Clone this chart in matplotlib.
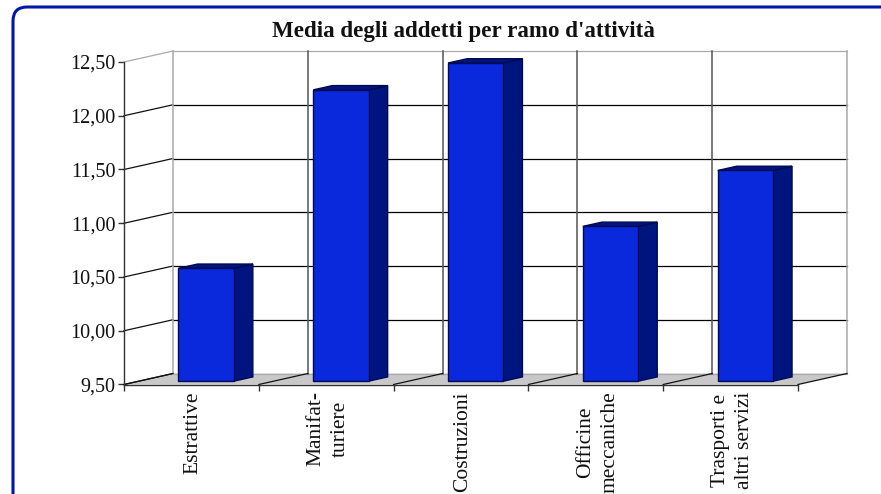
import matplotlib
matplotlib.use('Agg')
import matplotlib.pyplot as plt
from matplotlib.patches import FancyBboxPatch

plt.rcParams['font.family'] = ['Liberation Serif', 'DejaVu Serif']

categories = ['Estrattive', 'Manifat-\nturiere', 'Costruzioni', 'Officine\nmeccaniche', 'Trasporti e\naltri servizi']
values = [10.55, 12.21, 12.46, 10.94, 11.46]
y_ticks = [9.5, 10.0, 10.5, 11.0, 11.5, 12.0, 12.5]
y_labels = ['9,50', '10,00', '10,50', '11,00', '11,50', '12,00', '12,50']

W, H = 881, 494
BLUE_FRONT = '#0a28dc'
BLUE_SIDE = '#00147f'
BAR_EDGE = '#000a50'

# depth of the fake 3d box, in data units
DX = 49 / 134.8
DY = 11 / 107.5
BAR_WIDTH = 0.41
T0, T1 = 0.30, 0.69


def proj(x, y, t):
    return x + t * DX, y + t * DY


fig = plt.figure(figsize=(W / 100, H / 100), dpi=100)
fig.patch.set_facecolor('white')

# rounded frame, runs off the right and bottom of the image
frame = FancyBboxPatch((13 / W, -40 / H), 900 / W, (H + 40 - 7) / H,
                       boxstyle='round,pad=0,rounding_size=0.016', mutation_aspect=W / H,
                       transform=fig.transFigure, fc='white', ec='#0018a8', lw=2.2,
                       clip_on=False, zorder=-1)
fig.add_artist(frame)

ax = fig.add_axes([124 / W, (H - 384.5) / H, 674 / W, 322.5 / H])
ax.patch.set_alpha(0)
ax.set_xlim(0, 5)
ax.set_ylim(9.5, 12.5)

# floor
fx = [proj(0, 9.5, 0)[0], proj(5, 9.5, 0)[0], proj(5, 9.5, 1)[0], proj(0, 9.5, 1)[0]]
fy = [proj(0, 9.5, 0)[1], proj(5, 9.5, 0)[1], proj(5, 9.5, 1)[1], proj(0, 9.5, 1)[1]]
ax.fill(fx, fy, color='#c8c8c8', lw=0, clip_on=False, zorder=1)

# back wall and left wall grid
for v in y_ticks:
    x0, y0 = proj(0, v, 0)
    x1, y1 = proj(0, v, 1)
    x2, y2 = proj(5, v, 1)
    col = '#aaaaaa' if v in (9.5, 12.5) else '#000000'
    ax.plot([x1, x2], [y1, y2], color=col, lw=0.9, clip_on=False, zorder=2)
    ax.plot([x0, x1], [y0, y1], color='#111111' if v != 12.5 else '#aaaaaa', lw=0.9, clip_on=False, zorder=2)

for i in range(6):
    x0, y0 = proj(i, 9.5, 0)
    x1, y1 = proj(i, 9.5, 1)
    x2, y2 = proj(i, 12.5, 1)
    col = '#aaaaaa' if i in (0, 5) else '#555555'
    ax.plot([x1, x2], [y1, y2], color=col, lw=1.1, clip_on=False, zorder=2)
    ax.plot([x0, x1], [y0, y1], color='#111111', lw=0.9, clip_on=False, zorder=2)

# bars: side and top first, then the front through ax.bar
for i, v in enumerate(values):
    xl = i + 0.5 - BAR_WIDTH / 2
    xr = i + 0.5 + BAR_WIDTH / 2
    side = [proj(xr, 9.5, T0), proj(xr, 9.5, T1), proj(xr, v, T1), proj(xr, v, T0)]
    top = [proj(xl, v, T0), proj(xr, v, T0), proj(xr, v, T1), proj(xl, v, T1)]
    ax.fill(*zip(*side), fc=BLUE_SIDE, ec=BAR_EDGE, lw=1.0, clip_on=False, zorder=3)
    ax.fill(*zip(*top), fc=BLUE_SIDE, ec=BAR_EDGE, lw=1.0, clip_on=False, zorder=3)

centers = [i + 0.5 + T0 * DX for i in range(len(values))]
heights = [v - 9.5 for v in values]
ax.bar(centers, heights, width=BAR_WIDTH, bottom=9.5 + T0 * DY, color=BLUE_FRONT,
       edgecolor=BAR_EDGE, linewidth=1.0, clip_on=False, zorder=4)

# axes
for s in ['top', 'right']:
    ax.spines[s].set_visible(False)
for s in ['left', 'bottom']:
    ax.spines[s].set_color('#333333')
    ax.spines[s].set_linewidth(1.0)
    ax.spines[s].set_zorder(5)

ax.set_yticks(y_ticks)
ax.set_yticklabels(y_labels, fontsize=14.5, color='#111111')
ax.tick_params(axis='y', length=4.5, width=1.0, color='#333333', pad=1.5)
ax.set_xticks(range(6))
ax.set_xticklabels([])
ax.tick_params(axis='x', which='major', length=4.5, width=1.0, color='#333333')
ax.set_xticks([i + 0.515 for i in range(5)], minor=True)
ax.set_xticklabels(categories, minor=True, rotation=90, fontsize=15.5, color='#111111',
                   ha='center', va='top', multialignment='center', linespacing=1.4)
ax.tick_params(axis='x', which='minor', length=0, pad=5)

fig.text(463 / W, (H - 31) / H, "Media degli addetti per ramo d'attività", ha='center', va='center',
         fontsize=16.6, fontweight='bold', color='#111111')

fig.savefig('out.png', dpi=100)
